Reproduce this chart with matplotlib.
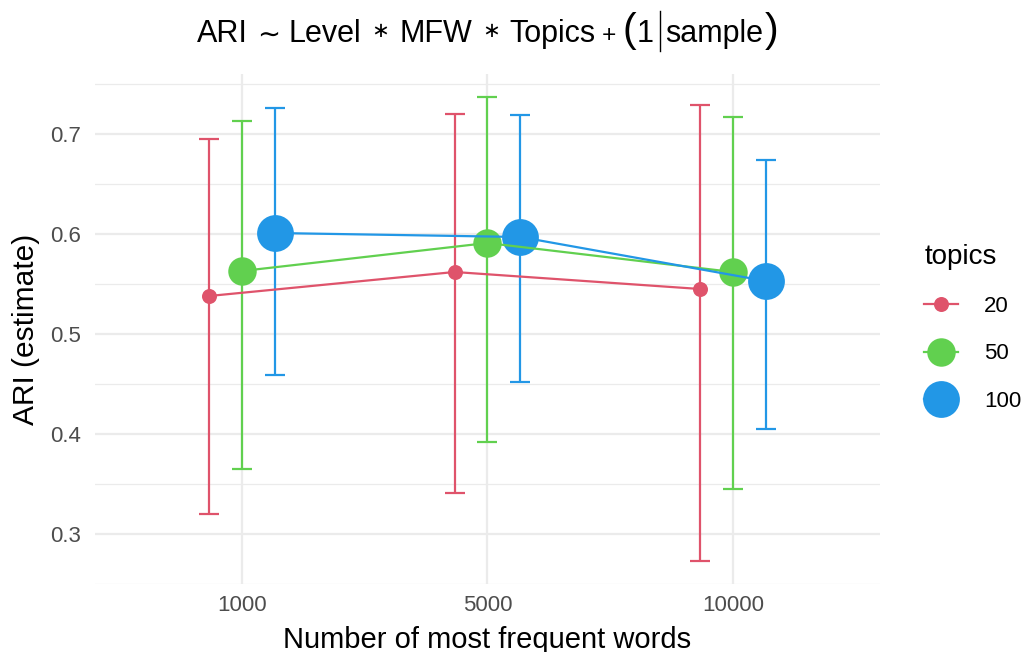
import matplotlib
matplotlib.use("Agg")
import matplotlib.pyplot as plt
from matplotlib.lines import Line2D
from matplotlib.ticker import MultipleLocator
import numpy as np

plt.rcParams['font.family'] = ['Liberation Sans', 'DejaVu Sans']

# Model estimates of ARI with confidence intervals, per MFW level and topic count
mfw_labels = ["1000", "5000", "10000"]
topics = ["20", "50", "100"]
colors = ["#DF536B", "#61D04F", "#2297E6"]

est_20 = [0.538, 0.562, 0.545]
lo_20 = [0.320, 0.341, 0.273]
hi_20 = [0.695, 0.720, 0.729]

est_50 = [0.563, 0.591, 0.562]
lo_50 = [0.365, 0.392, 0.345]
hi_50 = [0.713, 0.737, 0.717]

est_100 = [0.601, 0.597, 0.553]
lo_100 = [0.459, 0.452, 0.405]
hi_100 = [0.726, 0.719, 0.674]

series = [
    (est_20, lo_20, hi_20),
    (est_50, lo_50, hi_50),
    (est_100, lo_100, hi_100),
]
marker_sizes = [10.8, 20.5, 26.5]
dodge = 0.134

W, H = 1027, 652
fig = plt.figure(figsize=(W / 100, H / 100), dpi=100)
ax = fig.add_axes([0.0922, 0.1043, 0.857 - 0.0922, 0.8865 - 0.1043])

x = np.arange(len(mfw_labels))

for i, (est, lo, hi) in enumerate(series):
    xs = x + (i - 1) * dodge
    est = np.array(est)
    yerr = np.vstack([est - np.array(lo), np.array(hi) - est])
    ax.errorbar(xs, est, yerr=yerr, fmt='none', ecolor=colors[i],
                elinewidth=1.6, capsize=7.5, capthick=1.6, zorder=2)
    ax.plot(xs, est, 'o', color=colors[i], markersize=marker_sizes[i],
            markeredgewidth=0, zorder=3)
for i, (est, lo, hi) in enumerate(series):
    xs = x + (i - 1) * dodge
    ax.plot(xs, est, '-', color=colors[i], linewidth=1.6, zorder=4)

ax.set_xlim(-0.6, 2.6)
ax.set_ylim(0.25, 0.76)
ax.set_xticks(x)
ax.set_xticklabels(mfw_labels)
ax.yaxis.set_minor_locator(MultipleLocator(0.05))
ax.set_yticks([0.3, 0.4, 0.5, 0.6, 0.7])
ax.set_yticklabels(["0.3", "0.4", "0.5", "0.6", "0.7"])

ax.grid(True, which='major', color='#EBEBEB', linewidth=1.6, zorder=0)
ax.grid(True, which='minor', axis='y', color='#EBEBEB', linewidth=0.9, zorder=0)
ax.set_axisbelow(True)
for s in ax.spines.values():
    s.set_visible(False)
ax.tick_params(axis='both', which='both', length=0, labelsize=16,
               labelcolor='#4D4D4D')
ax.tick_params(axis='x', pad=8)
ax.tick_params(axis='y', pad=10)

ax.set_xlabel("Number of most frequent words", fontsize=21, color='black', labelpad=7)
ax.set_ylabel("ARI (estimate)", fontsize=21.5, color='black', labelpad=7)

# Title: model formula, laid out piece by piece (text, size, gap before, lift in px)
T = 22
baseline_px = 42
pieces = [
    ("ARI", T, 0, 0),
    ("\u223c", T * 0.9, 9, 0),
    ("Level", T, 9, 0),
    ("\u2217", T * 0.7, 10, 5),
    ("MFW", T, 10, 0),
    ("\u2217", T * 0.7, 10, 5),
    ("Topics", T, 10, 0),
    ("+", T * 0.8, 6, 0),
    ("(", T * 1.35, 6, 0),
    ("1", T, 1, 0),
    ("|", None, 5, 0),
    ("sample", T, 5, 0),
    (")", T * 1.35, 1, 0),
]
renderer = fig.canvas.get_renderer()
items = []
total = 0.0
for s, fs, gap, lift in pieces:
    total += gap
    if fs is None:
        items.append((None, total))
        total += 1.5
        continue
    t = fig.text(0, 1 - (baseline_px - lift) / H, s, fontsize=fs,
                 ha='left', va='baseline')
    w = t.get_window_extent(renderer).width
    items.append((t, total))
    total += w
x0 = 487.5 - total / 2
for t, off in items:
    if t is None:
        xb = (x0 + off + 0.75) / W
        fig.add_artist(Line2D([xb, xb], [1 - 11 / H, 1 - 51 / H],
                              transform=fig.transFigure, color='black',
                              linewidth=1.0))
    else:
        t.set_x((x0 + off) / W)

handles = [Line2D([0], [0], color=colors[i], marker='o', markersize=marker_sizes[i],
                  markeredgewidth=0, linewidth=1.6) for i in range(3)]
leg = fig.legend(handles, topics, title="topics", loc='upper left',
                 bbox_to_anchor=(0.9, 1 - 244 / H), frameon=False, fontsize=16,
                 title_fontsize=20, handlelength=1.5, labelspacing=1.18,
                 handletextpad=1.2, borderaxespad=0, borderpad=0)
leg._legend_box.align = "left"

fig.savefig("out.png", dpi=100)
